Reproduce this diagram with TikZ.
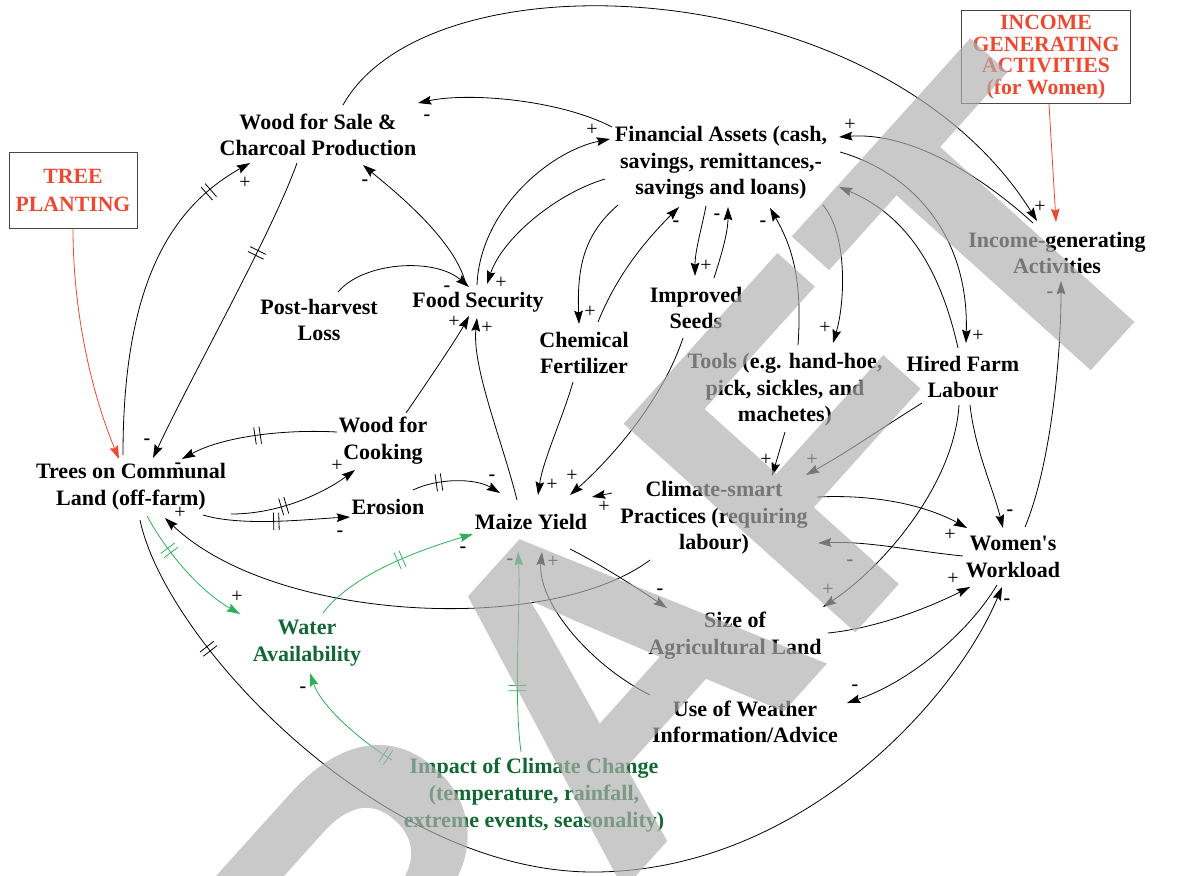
\documentclass[tikz,border=0pt]{standalone}
\usepackage{fontspec}
\setmainfont{Liberation Serif}
\newfontfamily\wmfont{Liberation Sans}
\usetikzlibrary{arrows.meta,calc,decorations.markings}

\definecolor{plantred}{RGB}{238,72,48}
\definecolor{leafgreen}{RGB}{18,104,52}
\definecolor{linkgreen}{RGB}{44,176,88}
\definecolor{framegray}{RGB}{70,70,70}
\definecolor{wmgray}{RGB}{175,175,175}

\tikzset{
  var/.style={font=\bfseries\fontsize{16.5}{20}\selectfont, align=center, inner sep=0.75pt},
  greenvar/.style={var, text=leafgreen},
  policy/.style={draw=framegray, line width=0.7pt, text=plantred, align=center, font=\bfseries\fontsize{16.3}{#1}\selectfont},
  link/.style={draw, line width=0.6pt, -{Stealth[length=10pt,width=6.5pt,inset=1.5pt]}},
  greenlink/.style={link, color=linkgreen},
  redlink/.style={link, color=plantred},
  pol/.style={text=black, inner sep=0pt, font=\fontsize{15}{15}\selectfont},
  lag/.style={postaction={decorate,decoration={markings,
    mark=at position #1 with {\draw[-] (-2pt,-6.5pt) -- (-2pt,6.5pt) (2pt,-6.5pt) -- (2pt,6.5pt);}}}}
}

\begin{document}
\begin{tikzpicture}[x=0.75pt,y=0.75pt,yscale=-1,xscale=1]
\path[use as bounding box] (0,0) rectangle (1192,875);

% Policy boxes
\node[policy=21, minimum width=96pt, minimum height=57pt] (treeplant) at (73,190) {TREE\\PLANTING};
\node[policy=16.3, minimum width=127pt, minimum height=70pt] (incomebox) at (1046,57) {INCOME\\GENERATING\\ACTIVITIES\\(for Women)};

% Text Node
\node[var] (woodsale) at (318,135) {Wood for Sale \&\\Charcoal Production};
\node[var] (finance) at (721,163) {Financial Assets (cash,\\savings, remittances,-\\savings and loans)};
\node[var] (postharvest) at (319,320) {Post-harvest\\Loss};
\node[var] (foodsec) at (478,302) {Food Security};
\node[var] (fert) at (584,353) {Chemical\\Fertilizer};
\node[var] (seeds) at (696,308) {Improved\\Seeds};
\node[var] (tools) at (785,390) {Tools (e.g. hand-hoe,\\pick, sickles, and\\machetes)};
\node[var] (hired) at (963,377) {Hired Farm\\Labour};
\node[var] (incomegen) at (1057,253) {Income-generating\\Activities};
\node[var] (trees) at (131,487) {Trees on Communal\\Land (off-farm)};
\node[var] (cooking) at (383,441) {Wood for\\Cooking};
\node[var] (erosion) at (388,507) {Erosion};
\node[var] (maize) at (531,522) {Maize Yield};
\node[var] (csp) at (714,518) {Climate-smart\\Practices (requiring\\labour)};
\node[var] (workload) at (1013,557) {Women\textquotesingle s\\Workload};
\node[greenvar] (water) at (307,643) {Water\\Availability};
\node[var] (landsize) at (735,636) {Size of\\Agricultural Land};
\node[var] (weather) at (745,722) {Use of Weather\\Information/Advice};
\node[greenvar] (climate) at (534,795) {Impact of Climate Change\\(temperature, rainfall,\\extreme events, seasonality)};

% Connectors round Financial Assets
\draw[link] ($(finance)+(-109,-36)$) .. controls +(-52,-27) and +(52,-11) .. ($(woodsale)+(100,-32)$) node[pol] at (427,118) {\textbf{-}};
\draw[link] ($(woodsale)+(25,-30)$) .. controls +(87,-155) and +(-157,-251) .. ($(incomegen)+(-20,-32)$) node[pol] at (1040,207) {+};
\draw[link] ($(foodsec)+(-12,-17)$) .. controls +(-10,-45) and +(30,25) .. ($(woodsale)+(45,30)$) node[pol] at (365,183) {\textbf{-}};
\draw[link] ($(postharvest)+(19,-28)$) .. controls +(25,-30) and +(-35,-30) .. ($(foodsec)+(-9,-15)$) node[pol] at (447,289) {\textbf{-}};
\draw[link] ($(foodsec)+(-1,-17)$) .. controls +(3,-75) and +(-60,12) .. ($(finance)+(-111,-24)$) node[pol] at (592,130) {+};
\draw[link] ($(finance)+(-116,16)$) .. controls +(-50,15) and +(15,-45) .. ($(foodsec)+(9,-18)$) node[pol] at (501,283) {+};
\draw[link] ($(finance)+(-103,42)$) .. controls +(-35,30) and +(-2,-55) .. ($(fert)+(-5,-29)$) node[pol] at (590,312) {+};
\draw[link] ($(fert)+(14,-31)$) .. controls +(20,-50) and +(-30,30) .. ($(finance)+(-42,44)$) node[pol] at (676,224) {\textbf{-}};
\draw[link] ($(finance)+(-15,43)$) .. controls +(-5,25) and +(0,-25) .. ($(seeds)+(-1,-32)$) node[pol] at (706,266) {+};
\draw[link] ($(seeds)+(18,-30)$) .. controls +(8,-25) and +(0,25) .. ($(finance)+(7,44)$) node[pol] at (717,217) {\textbf{-}};
\draw[link] ($(tools)+(13,-45)$) .. controls +(5,-70) and +(20,35) .. ($(finance)+(49,45)$) node[pol] at (763,224) {\textbf{-}};
\draw[link] ($(finance)+(102,42)$) .. controls +(25,30) and +(12,-40) .. ($(tools)+(48,-47)$) node[pol] at (825,328) {+};
\draw[link] ($(finance)+(119,-11)$) .. controls +(70,20) and +(3,-110) .. ($(hired)+(3,-34)$) node[pol] at (978,336) {+};
\draw[link] ($(hired)+(-5,-29)$) .. controls +(-20,-90) and +(60,25) .. ($(finance)+(118,24)$);
\draw[link] ($(incomegen)+(-24,-30)$) .. controls +(-55,-50) and +(70,-5) .. ($(finance)+(118,-26)$) node[pol] at (850,125) {+};

% Policy links
\draw[redlink] ($(incomebox)+(3,47)$) -- ($(incomegen)+(-1,-31)$);
\draw[redlink] (treeplant.south) .. controls +(0,90) and +(-25,-60) .. ($(trees)+(-12,-28)$);
\draw[link] ($(workload)+(12,-30)$) .. controls +(25,-60) and +(0,80) .. ($(incomegen)+(4,28)$) node[pol] at (1050,295) {\textbf{-}};

% Trees on communal land
\draw[link, lag=0.85] ($(trees)+(-8,-32)$) .. controls +(0,-170) and +(-80,45) .. ($(woodsale)+(-68,28)$) node[pol] at (245,183) {+};
\draw[link, lag=0.3] ($(woodsale)+(-21,28)$) .. controls +(-25,70) and +(40,-85) .. ($(trees)+(22,-29)$) node[pol] at (147,442) {\textbf{-}};
\draw[link, lag=0.5] ($(cooking)+(-46,-9)$) .. controls +(-55,-3) and +(40,-22) .. ($(trees)+(51,-28)$) node[pol] at (178,466) {\textbf{-}};
\draw[link, lag=0.4] ($(trees)+(100,27)$) .. controls +(50,0) and +(-30,22) .. ($(cooking)+(-28,29)$) node[pol] at (337,466) {+};
\draw[link, lag=0.5] ($(trees)+(72,28)$) .. controls +(40,12) and +(-40,2) .. ($(erosion)+(-38,10)$) node[pol] at (340,534) {\textbf{-}};
\draw[link] ($(cooking)+(23,-28)$) .. controls +(22,-32) and +(-12,22) .. ($(foodsec)+(-9,14)$) node[pol] at (454,322) {+};

% Maize yield
\draw[link] ($(maize)+(-14,-22)$) .. controls +(-15,-60) and +(-5,50) .. ($(foodsec)+(-1,16)$) node[pol] at (487,328) {+};
\draw[link, lag=0.3] ($(erosion)+(25,-17)$) .. controls +(25,-12) and +(-25,-15) .. ($(maize)+(-31,-29)$) node[pol] at (492,478) {\textbf{-}};
\draw[link] ($(fert)+(-11,29)$) .. controls +(-10,35) and +(5,-35) .. ($(maize)+(7,-27)$) node[pol] at (552,485) {+};
\draw[link] ($(seeds)+(-13,30)$) .. controls +(-20,60) and +(45,-40) .. ($(maize)+(39,-27)$) node[pol] at (572,476) {+};
\draw[link] ($(csp)+(-102,-25)$) -- ($(maize)+(61,-25)$) node[pol] at (604,507) {+};
\draw[link] ($(maize)+(39,27)$) .. controls +(30,15) and +(-30,-20) .. ($(landsize)+(-68,-28)$) node[pol] at (660,592) {\textbf{-}};
\draw[link] ($(csp)+(-64,42)$) .. controls +(-100,75) and +(110,105) .. ($(trees)+(34,31)$) node[pol] at (180,513) {+};

% Climate-smart practices and labour
\draw[link] ($(workload)+(-50,-1)$) .. controls +(-50,-5) and +(50,-2) .. ($(csp)+(104,25)$) node[pol] at (850,563) {\textbf{-}};
\draw[link] ($(csp)+(103,-21)$) .. controls +(60,-3) and +(-40,-22) .. ($(workload)+(-46,-29)$) node[pol] at (950,535) {+};
\draw[link] ($(tools)+(0,42)$) -- ($(csp)+(58,-42)$) node[pol] at (766,460) {+};
\draw[link] ($(hired)+(-41,26)$) .. controls +(-40,25) and +(40,-22) .. ($(csp)+(92,-43)$) node[pol] at (812,460) {+};
\draw[link] ($(hired)+(7,28)$) .. controls +(5,45) and +(-10,-40) .. ($(workload)+(-10,-29)$) node[pol] at (1010,513) {\textbf{-}};
\draw[link] ($(hired)+(-4,28)$) .. controls +(-5,80) and +(60,-40) .. ($(landsize)+(88,-29)$) node[pol] at (828,590) {+};
\draw[link] ($(landsize)+(93,-3)$) .. controls +(50,-5) and +(-40,20) .. ($(workload)+(-43,30)$) node[pol] at (953,579) {+};
\draw[link] ($(workload)+(-16,28)$) .. controls +(-30,50) and +(60,-20) .. ($(weather)+(102,-19)$) node[pol] at (855,688) {\textbf{-}};
\draw[link] ($(weather)+(-95,-27)$) .. controls +(-60,-30) and +(-5,50) .. ($(maize)+(11,30)$) node[pol] at (553,562) {+};

% Water and climate
\draw[greenlink, lag=0.3] ($(trees)+(16,29)$) .. controls +(25,45) and +(-35,-20) .. ($(water)+(-67,-29)$) node[pol] at (237,597) {+};
\draw[greenlink, lag=0.55] ($(water)+(16,-30)$) .. controls +(30,-40) and +(-50,15) .. ($(maize)+(-58,12)$) node[pol] at (463,550) {\textbf{-}};
\draw[greenlink, lag=0.06] ($(climate)+(-142,-35)$) .. controls +(-40,-25) and +(10,30) .. ($(water)+(3,30)$) node[pol] at (303,690) {\textbf{-}};
\draw[greenlink, lag=0.32] ($(climate)+(-13,-43)$) .. controls +(-8,-60) and +(3,50) .. ($(maize)+(-13,30)$) node[pol] at (510,562) {\textbf{-}};

% Outer loop
\coordinate (arcbottom) at (593,872);
\draw[link, lag=0.13] ($(trees)+(9,33)$) .. controls +(25,120) and +(-213,0) .. (arcbottom) .. controls +(207,0) and +(-47,113) .. ($(workload)+(-11,30)$) node[pol] at (1007,602) {\textbf{-}};

% Watermark
\node[text=wmgray, text opacity=0.68, inner sep=0pt, anchor=base west, rotate=48, font=\wmfont\bfseries\fontsize{340}{340}\selectfont] (draft) at (178,1385) {DRAFT};

\end{tikzpicture}
\end{document}
